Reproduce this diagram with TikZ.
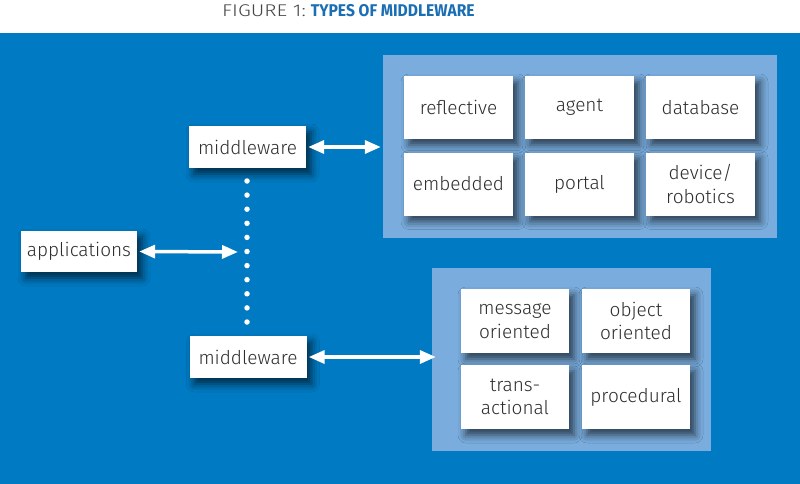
\documentclass[tikz,border=0pt]{standalone}
\usepackage{fontspec}
\setmainfont{Fira Sans Light}
\newfontfamily\titlelight[FakeStretch=1.22]{Fira Sans Light}
\newfontfamily\titlebold[FakeStretch=0.92]{Fira Sans Bold}
\usetikzlibrary{arrows.meta,shadows.blur}
\definecolor{bgblue}{RGB}{0,122,194}
\definecolor{panelblue}{RGB}{122,173,222}
\definecolor{titleblue}{RGB}{26,110,180}
\definecolor{txtgray}{RGB}{45,45,45}
\definecolor{titlegray}{RGB}{70,70,70}
\tikzset{
  box/.style={fill=white, text=txtgray, font=\fontsize{19}{23.5}\selectfont, align=center, inner sep=0pt,
    blur shadow={shadow xshift=5pt, shadow yshift=-6pt, shadow blur radius=8pt, shadow opacity=65}},
  bigbox/.style={box, minimum width=109pt, minimum height=63pt},
  smallbox/.style={box, minimum width=108pt, minimum height=64pt},
  wbox/.style={box, minimum width=117pt, minimum height=42pt},
  panel/.style={fill=panelblue, inner sep=0pt},
  arr/.style={draw=white, line width=3.5pt, {Triangle[length=16pt,width=13pt]}-{Triangle[length=16pt,width=13pt]}, shorten <=2pt, shorten >=2pt},
  dots/.style={draw=white, line width=5.5pt, line cap=round, dash pattern=on 0pt off 14.1pt}
}
\begin{document}
\begin{tikzpicture}[x=1pt,y=-1pt]
\useasboundingbox (0,0) rectangle (800,484);
\fill[white] (0,0) rectangle (800,484);
\fill[bgblue] (0,33) rectangle (800,484);
\node[anchor=base west, inner sep=0pt] (title) at (222,16.5) {\fontsize{17}{19}\selectfont{\titlelight\color{titlegray}FIGURE 1:}\hspace{5pt}{\titlebold\color{titleblue}TYPES OF MIDDLEWARE}};

\node[panel, minimum width=394pt, minimum height=183pt] (p1) at (580,146.5) {};
\node[panel, minimum width=279pt, minimum height=183pt] (p2) at (571.5,359.5) {};

\node[bigbox] (reflective) at (458.5,107.5) {reflective};
\node[bigbox] (agent) at (579.5,107.5) {agent};
\node[bigbox] (database) at (700.5,107.5) {database};
\node[bigbox] (embedded) at (458.5,184) {embedded};
\node[bigbox] (portal) at (579.5,184) {portal};
\node[bigbox] (device) at (700.5,184) {device/\\robotics};

\node[smallbox] (message) at (515,321) {message\\oriented};
\node[smallbox] (object) at (636,321) {object\\oriented};
\node[smallbox] (trans) at (515,397) {trans-\\actional};
\node[smallbox] (procedural) at (636,397) {procedural};

\node[wbox] (mwt) at (247.5,147) {middleware};
\node[wbox] (mwb) at (248,357) {middleware};
\node[wbox, minimum width=116pt, minimum height=41pt] (apps) at (79,251.5) {applications};

\coordinate (d1) at (247,181);
\coordinate (d2) at (247,323);
\coordinate (junction) at (240,252);
\draw[dots] (d1) -- (d2);

\draw[arr] (mwt.east) -- (p1.west |- mwt.east);
\draw[arr] (mwb.east) -- ([xshift=6pt]p2.west |- mwb.east);
\draw[arr] (apps.east) -- (junction);
\end{tikzpicture}
\end{document}
